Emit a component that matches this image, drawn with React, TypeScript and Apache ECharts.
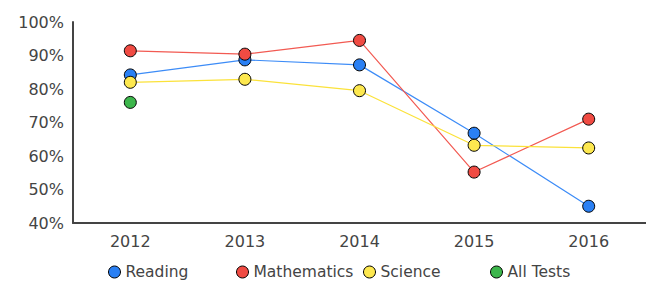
import React, { useEffect, useRef } from "react";
import * as echarts from "echarts";

const years = ["2012", "2013", "2014", "2015", "2016"];
const reading = [84.2, 88.7, 87.2, 66.8, 45.0];
const mathematics = [91.4, 90.4, 94.5, 55.2, 71.0];
const science = [82.0, 82.9, 79.5, 63.2, 62.4];
const allTests = [76.0, null, null, null, null];
const seriesNames = ["Reading", "Mathematics", "Science", "All Tests"];
const seriesColors = ["#2a80f4", "#f04b43", "#fde84f", "#3db64c"];
const lineColors = ["#3d8cf7", "#f25a52", "#fbe23a", "#3db64c"];
const legendLefts = [108, 236, 363, 490];

export default function App() {
  const ref = useRef<HTMLDivElement>(null);
  useEffect(() => {
    if (!ref.current) return;
    const chart = echarts.init(ref.current, undefined, { renderer: "svg" });
    const data = [reading, mathematics, science, allTests];
    chart.setOption({
      animation: false,
      textStyle: { fontFamily: "DejaVu Sans" },
      grid: { left: 73, top: 22, height: 201, width: 577, containLabel: false },
      xAxis: {
        type: "category",
        data: years,
        boundaryGap: true,
        axisLine: { show: true, lineStyle: { color: "#444", width: 2 } },
        axisTick: { show: false },
        axisLabel: { color: "#444", fontSize: 16, margin: 10, fontFamily: "DejaVu Sans" },
        splitLine: { show: false },
      },
      yAxis: {
        type: "value",
        min: 40,
        max: 100,
        interval: 10,
        axisLine: { show: true, lineStyle: { color: "#444", width: 2 } },
        axisTick: { show: false },
        splitLine: { show: false },
        axisLabel: {
          color: "#444",
          fontSize: 16,
          margin: 9,
          formatter: "{value}%",
          fontFamily: "DejaVu Sans",
        },
      },
      legend: seriesNames.map((n, i) => ({
        data: [n],
        left: legendLefts[i],
        top: 264,
        padding: 0,
        icon: "circle",
        itemWidth: 12,
        itemHeight: 12,
        itemGap: 6,
        itemStyle: { borderColor: "#000", borderWidth: 1 },
        textStyle: { color: "#444", fontSize: 15.5, fontFamily: "DejaVu Sans" },
        selectedMode: false,
      })),
      series: seriesNames.map((n, i) => ({
        name: n,
        type: "line",
        data: data[i],
        symbol: "circle",
        symbolSize: 12,
        showSymbol: true,
        connectNulls: false,
        itemStyle: { color: seriesColors[i], borderColor: "#000", borderWidth: 1 },
        lineStyle: { color: lineColors[i], width: 1.2 },
        emphasis: { disabled: true },
      })),
    });
    return () => chart.dispose();
  }, []);
  return (
    <div
      ref={ref}
      style={{ position: "absolute", left: 0, top: 0, width: 646, height: 284, background: "#fff" }}
    />
  );
}
